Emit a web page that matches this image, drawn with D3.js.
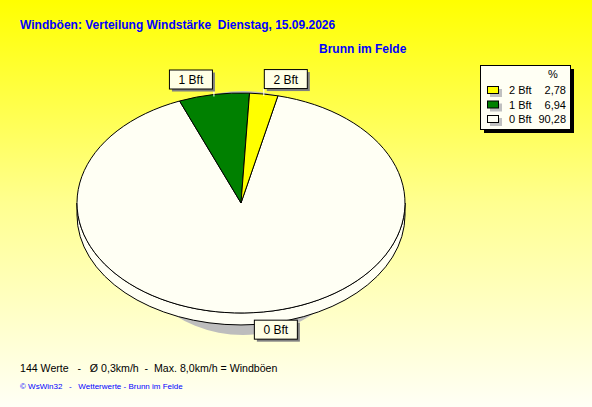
<!DOCTYPE html>
<html>
<head>
<meta charset="utf-8">
<script src="https://cdn.jsdelivr.net/npm/d3@7"></script>
<style>
  body { margin: 0; overflow: hidden; }
  svg { display: block; font-family: "Liberation Sans", Arial, sans-serif; }
</style>
</head>
<body>
<svg id="chart" width="592" height="407"></svg>
<script>
// data
const categories = ["0 Bft", "1 Bft", "2 Bft"]
const percents = [90.28, 6.94, 2.78]
const percentLabels = ["90,28", "6,94", "2,78"]
const titleText = "Windböen: Verteilung Windstärke  Dienstag, 15.09.2026"
const stationText = "Brunn im Felde"
const footerText = "144 Werte   -   Ø 0,3km/h  -  Max. 8,0km/h = Windböen"
const creditText = "© WsWin32   -   Wetterwerte - Brunn im Felde"

const svg = d3.select("#chart")

// background gradient
let defs = svg.append("defs")
let grad = defs.append("linearGradient").attr("id", "bg")
    .attr("x1", 0).attr("y1", 0).attr("x2", 0).attr("y2", 1)
grad.append("stop").attr("offset", "0%").attr("stop-color", "#ffff00")
grad.append("stop").attr("offset", "50%").attr("stop-color", "#ffff90")
grad.append("stop").attr("offset", "100%").attr("stop-color", "#fffff6")
svg.append("rect").attr("width", 592).attr("height", 407).attr("fill", "url(#bg)")

// titles
svg.append("text").attr("x", 20).attr("y", 29)
    .style("font-weight", "bold").style("font-size", "12px").attr("fill", "#0000ff")
    .style("white-space", "pre")
    .text(titleText)
svg.append("text").attr("x", 319).attr("y", 53)
    .style("font-weight", "bold").style("font-size", "12px").attr("fill", "#0000ff")
    .text(stationText)

// pie geometry
const cx = 241, cy = 203, rx = 164, ry = 110, depth = 12
const color = d3.scaleOrdinal().domain(categories).range(["#fffff4", "#008000", "#ffff00"])

let pie = d3.pie().sort(null)
    .startAngle(13 * Math.PI / 180)
    .endAngle(373 * Math.PI / 180)
let arcs = pie(percents)
let arc = d3.arc().innerRadius(0).outerRadius(rx)

// shadow
svg.append("ellipse")
    .attr("cx", cx + 2).attr("cy", cy + 10)
    .attr("rx", 125).attr("ry", ry + 12)
    .attr("fill", "#bdbdbd")

// side of the disc (front half only, covered by 0 Bft)
let side = "M" + (cx - rx) + "," + cy +
    " L" + (cx - rx) + "," + (cy + depth) +
    " A" + rx + "," + ry + " 0 0 0 " + (cx + rx) + "," + (cy + depth) +
    " L" + (cx + rx) + "," + cy +
    " A" + rx + "," + ry + " 0 0 1 " + (cx - rx) + "," + cy + " Z"
svg.append("path").attr("d", side)
    .attr("fill", color("0 Bft"))
    .attr("stroke", "black").attr("stroke-width", 1)

// top face
let face = svg.append("g")
    .attr("transform", "translate(" + cx + "," + cy + ") scale(1," + (ry / rx) + ")")
face.selectAll("path")
    .data(arcs)
    .enter().append("path")
    .attr("d", arc)
    .attr("fill", (d, i) => color(categories[i]))
    .attr("stroke", "black")
    .attr("stroke-width", 1)
    .attr("vector-effect", "non-scaling-stroke")

// slice labels
let labelG = svg.append("g")
arcs.forEach((d, i) => {
    let a = (d.startAngle + d.endAngle) / 2
    let sx = Math.sin(a), cs = Math.cos(a)
    let ax = cx + rx * sx
    let ay = cy - ry * cs + (cs < 0 ? depth : 0)
    let w = 43, h = 19
    let bx = sx >= 0 ? ax : ax - w - 2
    let by = cs > 0 ? ay - 6 - h : ay - 5
    if (cs > 0) {
        labelG.append("line")
            .attr("x1", ax).attr("y1", by + h)
            .attr("x2", ax).attr("y2", ay + 2)
            .attr("stroke", "white")
    }
    labelG.append("rect")
        .attr("x", bx + 3).attr("y", by + 3)
        .attr("width", w).attr("height", h)
        .attr("fill", "#808080")
    labelG.append("rect")
        .attr("x", bx + 0.5).attr("y", by + 0.5)
        .attr("width", w).attr("height", h)
        .attr("fill", "#ffffe6").attr("stroke", "black")
    labelG.append("text")
        .attr("x", bx + w / 2 + 0.5).attr("y", by + 14.5)
        .attr("text-anchor", "middle")
        .style("font-size", "12px")
        .text(categories[i])
})

// legend
let legend = svg.append("g").attr("transform", "translate(480,65)")
legend.append("rect").attr("x", 4).attr("y", 4).attr("width", 90).attr("height", 64).attr("fill", "black")
legend.append("rect").attr("x", 0.5).attr("y", 0.5).attr("width", 90).attr("height", 64)
    .attr("fill", "#fffff4").attr("stroke", "black")
legend.append("text").attr("x", 73).attr("y", 13)
    .attr("text-anchor", "middle").style("font-size", "11px").text("%")

let order = d3.range(categories.length).reverse()
let rows = legend.selectAll(".row")
    .data(order)
    .enter().append("g")
    .attr("class", "row")
    .attr("transform", (d, j) => "translate(0," + (25 + j * 14.5) + ")")
rows.append("rect").attr("x", 10).attr("y", -1).attr("width", 12).attr("height", 8).attr("fill", "#c0c0c0")
rows.append("rect").attr("x", 7.5).attr("y", -3.5).attr("width", 11).attr("height", 7)
    .attr("fill", d => color(categories[d])).attr("stroke", "black")
rows.append("text").attr("x", 29).attr("y", 4)
    .style("font-size", "11px").text(d => categories[d])
rows.append("text").attr("x", 86).attr("y", 4)
    .attr("text-anchor", "end").style("font-size", "11px").text(d => percentLabels[d])

// footer
svg.append("text").attr("x", 20).attr("y", 372)
    .style("font-size", "10.6px").attr("fill", "black")
    .style("white-space", "pre")
    .text(footerText)
svg.append("text").attr("x", 20).attr("y", 389)
    .style("font-size", "8px").attr("fill", "#0000ff")
    .style("white-space", "pre")
    .text(creditText)
</script>
</body>
</html>
